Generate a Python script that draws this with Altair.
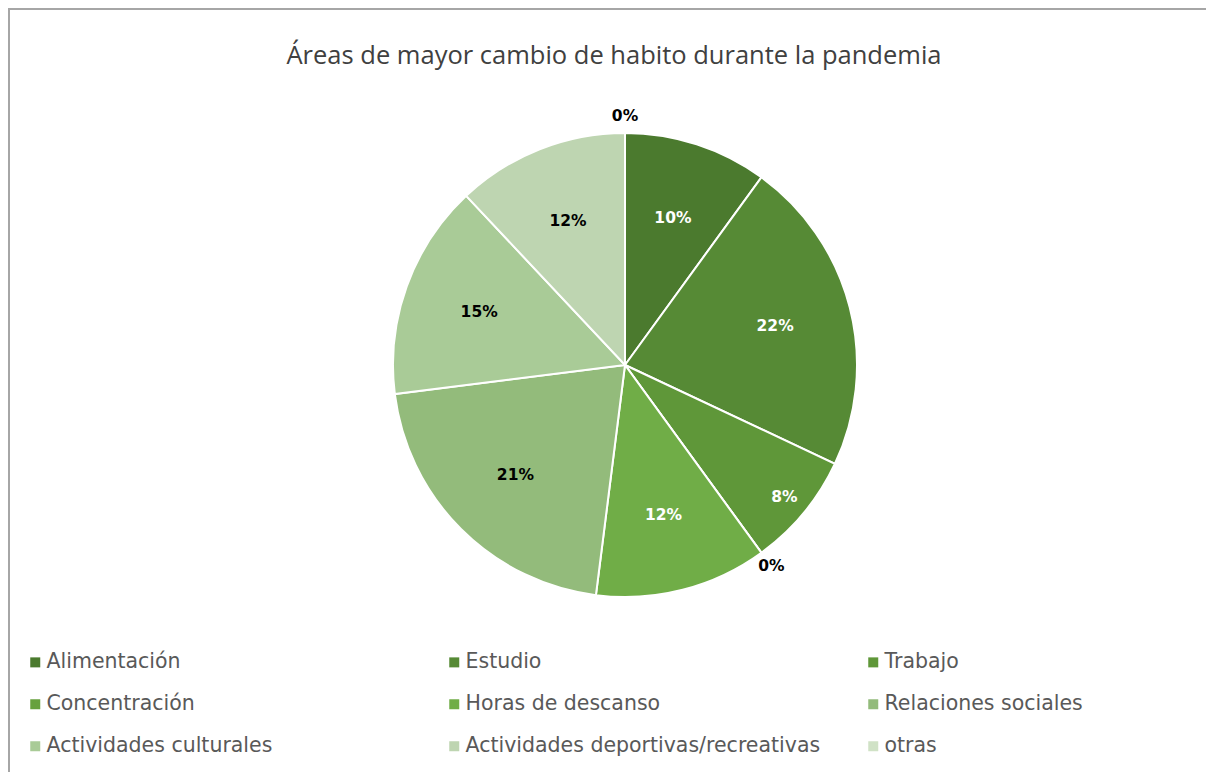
import altair as alt
import pandas as pd

categories = ["Alimentación", "Estudio", "Trabajo", "Concentración", "Horas de descanso",
              "Relaciones sociales", "Actividades culturales",
              "Actividades deportivas/recreativas", "otras"]
values = [10, 22, 8, 0, 12, 21, 15, 12, 0]
colors = ["#4B7A2E", "#568A35", "#5F9739", "#67A13E", "#70AD47",
          "#93BB7B", "#A9CB97", "#BED5B1", "#D0E2C6"]
dark_label = [True, True, True, False, True, False, False, False, False]

df = pd.DataFrame({
    "cat": categories,
    "value": values,
    "idx": list(range(len(categories))),
    "dark": dark_label,
})

W, H = 1198, 764
CX, CY, R = 617, 357, 232

theta_scale = alt.Scale(domain=[0, 100], range=[0, 6.283185307179586])

base = alt.Chart(df).transform_window(
    cum="sum(value)", sort=[alt.SortField("idx")], frame=[None, 0]
).transform_calculate(
    start="datum.cum - datum.value",
    mid="datum.cum - datum.value / 2",
).encode(
    x=alt.value(CX),
    y=alt.value(CY),
)

pie = base.mark_arc(outerRadius=R, stroke="white", strokeWidth=2).encode(
    theta=alt.Theta("start:Q", scale=theta_scale, stack=False),
    theta2="cum:Q",
    color=alt.Color(
        "cat:N",
        scale=alt.Scale(domain=categories, range=colors),
        sort=categories,
        legend=alt.Legend(
            title=None, orient="none", legendX=17, legendY=644, columns=3,
            direction="horizontal",
            symbolType="square", symbolSize=100, symbolStrokeWidth=0,
            labelFont="DejaVu Sans", labelFontSize=20.5, labelColor="#595959",
            labelOffset=1, gridAlign="all", columnPadding=42, rowPadding=21,
            labelLimit=600,
        ),
    ),
)

labels = base.transform_calculate(
    lr="datum.value == 0 ? 249 : (datum.value < 10 ? 207 : 155)",
    pct="datum.value + '%'",
    tc="datum.dark ? 'white' : 'black'",
).mark_text(font="DejaVu Sans", fontSize=15.5, fontWeight="bold",
            align="center", baseline="middle").encode(
    theta=alt.Theta("mid:Q", scale=theta_scale, stack=False),
    radius=alt.Radius("lr:Q", scale=None),
    text="pct:N",
    color=alt.Color("tc:N", scale=None),
)

border = alt.Chart(df).mark_rect(fill=None, stroke="#A6A6A6", strokeWidth=1.5).encode(
    x=alt.value(1), x2=alt.value(W + 20), y=alt.value(1), y2=alt.value(H + 20)
)

chart = alt.layer(border, pie, labels).properties(
    width=W, height=H,
    autosize=alt.AutoSizeParams(type="none"),
    padding=0,
    title=alt.TitleParams(
        "Áreas de mayor cambio de habito durante la pandemia",
        font="Open Sans", fontSize=25.5, fontWeight="normal", color="#404040",
        anchor="middle", baseline="middle", offset=0, dy=73, dx=7,
    ),
).configure_view(stroke=None)

chart.save("out.html", embed_options={"renderer": "svg", "actions": False})
